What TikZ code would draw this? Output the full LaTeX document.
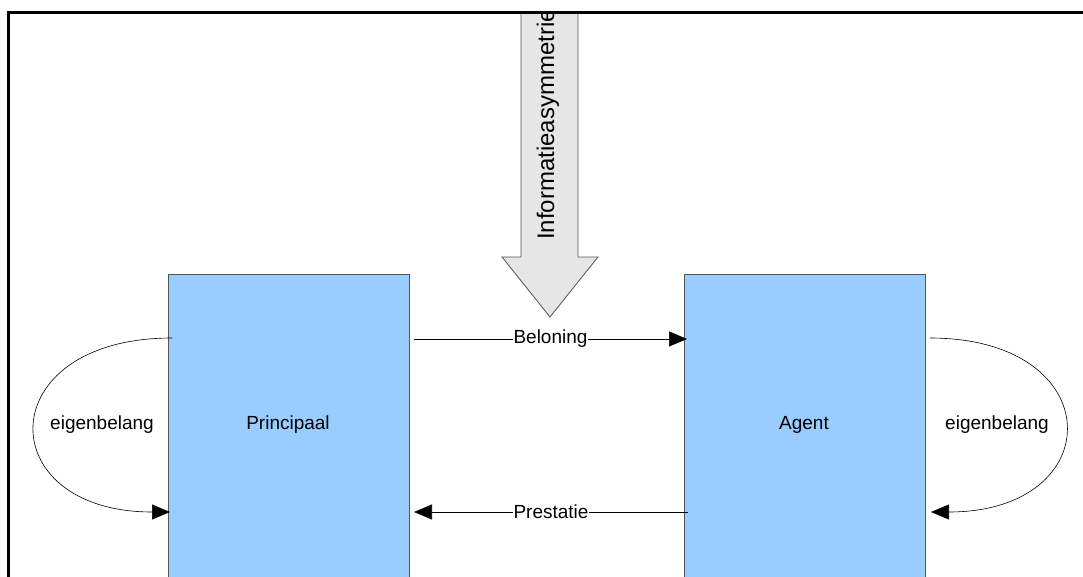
\documentclass[tikz,border=0pt]{standalone}
\usepackage{fontspec}
\setmainfont{Liberation Sans}
\usetikzlibrary{arrows.meta,calc}
\definecolor{boxblue}{HTML}{99CCFF}
\definecolor{arrowgray}{HTML}{E6E6E6}
\definecolor{edgegray}{HTML}{555555}
\begin{document}
\begin{tikzpicture}[x=1pt,y=-1pt,
  every node/.style={font=\fontsize{19}{22}\selectfont, inner sep=0pt},
  actor/.style={draw=edgegray, line width=1pt, fill=boxblue, minimum width=241pt, minimum height=330pt, anchor=north west},
  flow/.style={draw=black, line width=0.6pt, -{Triangle[length=18pt,width=15pt]}},
  lbl/.style={fill=white, inner xsep=1pt, inner ysep=2pt},
  frameline/.style={line width=2.5pt, draw=black}]
\useasboundingbox (0,0) rectangle (1083,577);
% block arrow
\begin{scope}
  \clip (0,13) rectangle (1083,577);
  \draw[fill=arrowgray, draw=edgegray, line width=0.8pt]
    (521,-5) -- (521,257) -- (502,257) -- (550,317) -- (598,257) -- (578,257) -- (578,-5) -- cycle;
  \node[rotate=90, anchor=west, font=\fontsize{24}{26}\selectfont] (info) at (548,240) {Informatieasymmetrie};
\end{scope}
% boxes
\node[actor] (princ) at (168,274) {};
\node[actor] (agent) at (684,274) {};
\node (ptext) at (288,425) {Principaal};
\node (atext) at (804,425) {Agent};
% coordinates
\coordinate (b1) at ($(princ.north east)+(4,65)$);
\coordinate (b2) at ($(agent.north west)+(3,65)$);
\coordinate (p1) at ($(agent.north west)+(4,238)$);
\coordinate (p2) at ($(princ.north east)+(4,238)$);
\coordinate (l1) at ($(princ.north west)+(4,64)$);
\coordinate (l2) at ($(princ.north west)+(2,238)$);
\coordinate (r1) at ($(agent.north east)+(4,64)$);
\coordinate (r2) at ($(agent.north east)+(5,238)$);
% flows
\draw[flow] (b1) -- node[lbl] (bel) {Beloning} (b2);
\draw[flow] (p1) -- node[lbl] (pre) {Prestatie} (p2);
\draw[flow] (l1) .. controls (-10,338) and (-10,512) .. (l2);
\draw[flow] (r1) .. controls (1110,338) and (1110,512) .. (r2);
\node (eig1) at (102,425) {eigenbelang};
\node (eig2) at (997,425) {eigenbelang};
% frame
\draw[frameline] (8.5,580) -- (8.5,12.5) -- (1090,12.5);
\end{tikzpicture}
\end{document}
